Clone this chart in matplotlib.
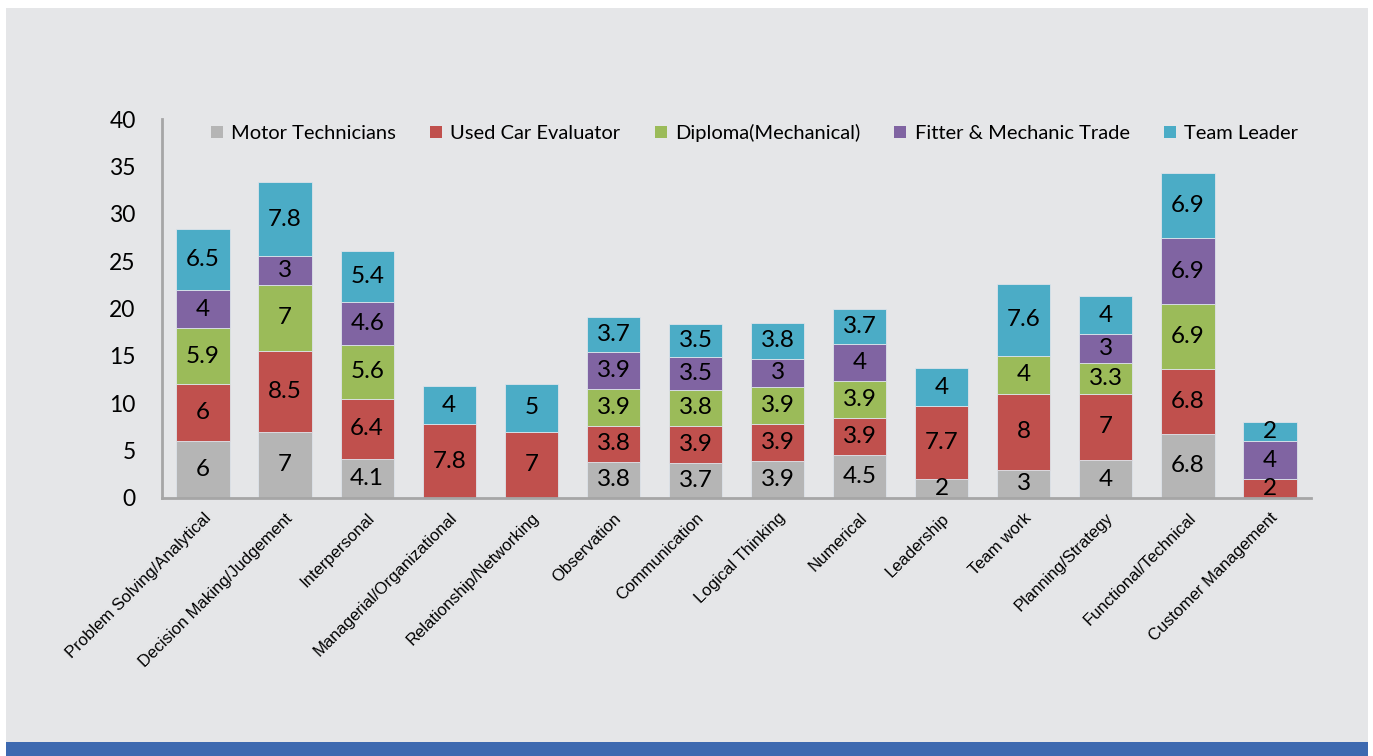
import numpy as np
import matplotlib.pyplot as plt
from matplotlib.patches import Rectangle, Patch

# Data
skills = ['Problem Solving/Analytical', 'Decision Making/Judgement', 'Interpersonal',
          'Managerial/Organizational', 'Relationship/Networking', 'Observation',
          'Communication', 'Logical Thinking', 'Numerical', 'Leadership', 'Team work',
          'Planning/Strategy', 'Functional/Technical', 'Customer Management']
motor_tech = [6, 7, 4.1, 0, 0, 3.8, 3.7, 3.9, 4.5, 2, 3, 4, 6.8, 0]
used_car = [6, 8.5, 6.4, 7.8, 7, 3.8, 3.9, 3.9, 3.9, 7.7, 8, 7, 6.8, 2]
diploma = [5.9, 7, 5.6, 0, 0, 3.9, 3.8, 3.9, 3.9, 0, 4, 3.3, 6.9, 0]
fitter = [4, 3, 4.6, 0, 0, 3.9, 3.5, 3, 4, 0, 0, 3, 6.9, 4]
team_lead = [6.5, 7.8, 5.4, 4, 5, 3.7, 3.5, 3.8, 3.7, 4, 7.6, 4, 6.9, 2]

series = [('Motor Technicians', motor_tech, '#b5b5b5'),
          ('Used Car Evaluator', used_car, '#c0504d'),
          ('Diploma(Mechanical)', diploma, '#9bbb59'),
          ('Fitter & Mechanic Trade', fitter, '#8064a2'),
          ('Team Leader', team_lead, '#4bacc6')]

W, H = 1373, 756
fig = plt.figure(figsize=(W / 100, H / 100), dpi=100)
fig.patch.set_facecolor('white')
# gray panel and blue band
fig.patches.append(Rectangle((6 / W, 1 - 742 / H), 1362 / W, 734 / H,
                             transform=fig.transFigure, facecolor='#e5e6e8',
                             edgecolor='none', zorder=-2))
fig.patches.append(Rectangle((6 / W, 0), 1362 / W, 14 / H,
                             transform=fig.transFigure, facecolor='#3d69b0',
                             edgecolor='none', zorder=-1))

ax = fig.add_axes([162 / W, 1 - 498 / H, 1149 / W, 379 / H])
ax.set_facecolor('none')

x_pos = np.arange(len(skills))
width = 0.65
bottom = np.zeros(len(skills))
for name, vals, col in series:
    vals = np.array(vals, dtype=float)
    ax.bar(x_pos, vals, width, bottom=bottom, color=col, label=name,
           edgecolor='#dde3ea', linewidth=0.6)
    for xi, b, v in zip(x_pos, bottom, vals):
        if v > 0:
            ax.text(xi, b + v / 2, f'{v:g}', ha='center', va='center',
                    fontsize=17.5, family='Lato', color='black')
    bottom += vals

ax.set_xlim(-0.5, len(skills) - 0.5)
ax.set_ylim(0, 40)
ax.set_yticks(range(0, 41, 5))
ax.tick_params(axis='y', length=0, pad=19, labelsize=16.5)
for lbl in ax.get_yticklabels():
    lbl.set_family('Lato')
ax.set_xticks(x_pos)
ax.set_xticklabels(skills, rotation=45, ha='right', rotation_mode='anchor',
                   fontsize=12, family='Liberation Sans')
ax.tick_params(axis='x', length=0, pad=9)

for s in ['top', 'right']:
    ax.spines[s].set_visible(False)
for s in ['left', 'bottom']:
    ax.spines[s].set_color('#a6a6a6')
    ax.spines[s].set_linewidth(2)

handles = [Patch(facecolor=c, edgecolor='none') for _, _, c in series]
ax.legend(handles, [n for n, _, _ in series], loc='center left', ncol=5,
          bbox_to_anchor=((211 - 162) / 1149, (498 - 133) / 379), frameon=False,
          prop={'family': 'Lato', 'size': 14.5}, handlelength=0.6,
          handleheight=0.6, handletextpad=0.4, columnspacing=1.7,
          borderaxespad=0, borderpad=0)

plt.savefig('out.png', dpi=100)
